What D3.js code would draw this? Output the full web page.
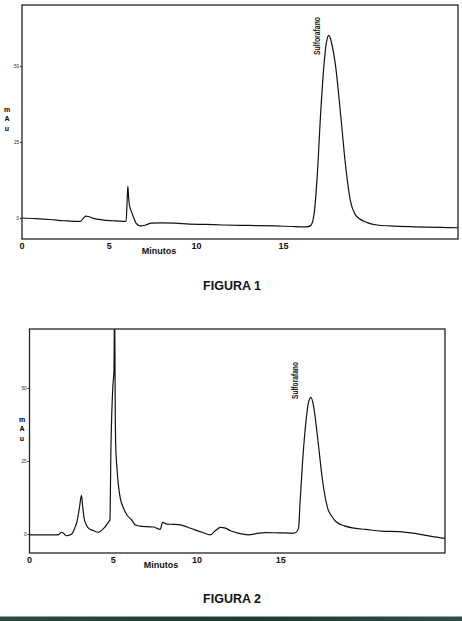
<!DOCTYPE html>
<html>
<head>
    <title>Sulforafano</title>
    <script type="text/javascript" src="https://d3js.org/d3.v7.min.js"></script>
    <style>
	body {
		margin: 0;
		background: #fff;
	}
	.tickx {
		font-family: Arial, "Liberation Sans", sans-serif;
		font-size: 9px;
		font-weight: bold;
		fill: #111;
	}
	.axis text {
		font-family: Arial, "Liberation Sans", sans-serif;
		font-size: 4.5px;
		fill: #222;
	}
	.axis path, .axis line {
		stroke: #222;
	}
	.labels {
		font-family: Arial, "Liberation Sans", sans-serif;
		font-weight: bold;
		fill: #111;
	}
	.peak {
		font-family: "Liberation Sans Narrow", "Arial Narrow", "Liberation Sans", sans-serif;
		font-size: 8.5px;
		font-weight: bold;
		fill: #111;
	}
    </style>
</head>
<body>
<script>

// ---------------- data ----------------
// retention time (minutos) and absorbance (mAu)
var fig1Minutes = [0, 0.8, 1.6, 2.4, 3.0, 3.35, 3.5, 3.65, 3.8, 4.1, 4.6, 5.2, 5.8, 5.97, 6.03, 6.07, 6.11, 6.16, 6.25, 6.4,
	6.55, 6.8, 7.1, 7.4, 8.0, 8.8, 9.6, 10.5, 11.5, 12.5, 13.5, 14.5, 15.5, 16.3, 16.55, 16.74, 16.93, 17.12, 17.31, 17.45,
	17.6, 17.75, 17.98, 18.27, 18.55, 18.84, 19.1, 19.31, 19.8, 20.36, 21.1, 22.5, 24, 25];
var fig1MAU = [0, -0.2, -0.5, -0.9, -1.1, -1.1, -0.2, 0.6, 0.5, -0.1, -0.6, -0.9, -1.1, -1.0, 6, 10.5, 7, 4.2, 2.5, 0.2,
	-1.8, -2.6, -2.3, -1.7, -1.6, -1.7, -2.0, -2.1, -2.3, -2.4, -2.5, -2.6, -2.8, -2.9, -2.5, 1.0, 14, 34, 50, 57.5,
	60, 57.5, 50, 34, 17.4, 5.4, 1.2, -0.1, -1.5, -2.3, -2.6, -2.9, -3.1, -3.2];

var fig2Minutes = [0, 0.8, 1.5, 1.75, 1.9, 2.05, 2.2, 2.5, 2.7, 2.83, 2.98, 3.1, 3.18, 3.26, 3.4, 3.52, 3.8, 4.12, 4.35, 4.52,
	4.7, 4.8, 4.86, 4.98, 5.04, 5.08, 5.12, 5.14, 5.22, 5.3, 5.42, 5.6, 5.82, 6.1, 6.32, 6.6, 7.0, 7.4, 7.8, 7.95,
	8.2, 8.6, 9.0, 9.4, 9.8, 10.3, 10.8, 11.1, 11.4, 11.7, 12.0, 12.5, 13.05, 13.6, 14.05, 14.9, 15.76, 15.9, 16.06, 16.14,
	16.3, 16.5, 16.65, 16.8, 16.95, 17.2, 17.5, 17.8, 18.05, 18.3, 18.8, 19.4, 20.05, 21, 22.05, 23, 24, 24.8];
var fig2MAU = [-0.3, -0.3, -0.3, -0.2, 0.6, 0.2, -0.6, -0.1, 2.0, 4.2, 9, 13.2, 9, 5.4, 3.0, 2.0, 1.2, 0.6, 1.5, 2.5,
	4.0, 4.8, 29, 51, 55.6, 80, 40, 31.6, 22.5, 17, 12.2, 9, 6.5, 4.8, 3.1, 2.7, 2.5, 2.4, 1.6, 4.0,
	3.4, 3.3, 3.1, 2.4, 1.6, 0.6, -0.3, 1.2, 2.3, 2.0, 1.1, 0.2, -0.3, 0.2, 0.5, 0.4, 0.3, 0.5, 2.0, 9.9,
	24.8, 38.5, 45, 46.8, 44, 32.8, 17.9, 8.8, 6, 4.2, 2.8, 2.0, 1.6, 1.0, 0.8, 0.2, -0.8, -1.5];

var xTicks = [0, 5, 10, 15];
var yTicks = [0, 25, 50];
var yUnitLetters = ["m", "A", "u"];
var peakName = "Sulforafano";
var axisTitle = "Minutos";
var figureTitles = ["FIGURA 1", "FIGURA 2"];

// create the svg canvas
var svgCanvas = d3.select("body").append("svg")
	.attr("width", 462)
	.attr("height", 621);

svgCanvas.append("rect").attr("width", 462).attr("height", 621).attr("fill", "#fff");

function Chromatogram( id, minutes, mau, box, xMax, yDomain, peakAt, peakLabel, unitX, unitY, captionY ) {
	var xScale = d3.scaleLinear().domain([0, xMax]).range([box.left, box.right]);
	var yScale = d3.scaleLinear().domain(yDomain).range([box.bottom, box.top]);

	var dataset = minutes.map(function (m, i){ return { t: m, v: mau[i] }; });

	svgCanvas.append("clipPath").attr("id", "clip" + id)
		.append("rect")
		.attr("x", box.left).attr("y", box.top)
		.attr("width", box.right - box.left).attr("height", box.bottom - box.top);

	// trace
	var line = d3.line()
		.x(function (d){ return xScale(d.t) })
		.y(function (d){ return yScale(d.v) })
		.curve(d3.curveMonotoneX);

	svgCanvas.append("path")
		.datum(dataset)
		.attr("d", line)
		.attr("clip-path", "url(#clip" + id + ")")
		.attr("fill", "none")
		.attr("stroke", "#111")
		.attr("stroke-width", 1.2)
		.attr("stroke-linejoin", "round");

	// frame
	svgCanvas.append("rect")
		.attr("x", box.left).attr("y", box.top)
		.attr("width", box.right - box.left).attr("height", box.bottom - box.top)
		.attr("fill", "none")
		.attr("stroke", "#222")
		.attr("stroke-width", 1.3);

	// y axis, tiny ticks
	var yAxis = d3.axisLeft(yScale).tickValues(yTicks).tickSize(2).tickPadding(1);
	svgCanvas.append("g").attr("class", "axis")
		.attr("transform", "translate(" + box.left + ",0)")
		.call(yAxis)
		.call(function (g){ g.select(".domain").remove() });

	// x tick labels
	svgCanvas.selectAll(".tx" + id).data(xTicks).enter().append("text")
		.attr("class", "tickx")
		.attr("x", function (d){ return xScale(d) })
		.attr("y", box.bottom + 10)
		.attr("text-anchor", "middle")
		.text(function (d){ return d });

	svgCanvas.append("text").attr("class", "labels")
		.attr("x", unitX.title).attr("y", box.bottom + 14.5)
		.attr("text-anchor", "middle")
		.style("font-size", "9px")
		.text(axisTitle);

	// mAu stacked letters
	svgCanvas.selectAll(".u" + id).data(yUnitLetters).enter().append("text")
		.attr("class", "labels")
		.attr("x", unitX.letters)
		.attr("y", function (d, i){ return unitY + i * 9.3 })
		.attr("text-anchor", "middle")
		.style("font-size", "7px")
		.style("fill", "#000")
		.text(function (d){ return d });

	// peak name, rotated, squeezed like a narrow face
	svgCanvas.append("text").attr("class", "peak")
		.attr("transform", "translate(" + peakAt.x + "," + peakAt.y + ") rotate(-90)")
		.attr("text-anchor", "start")
		.attr("textLength", peakAt.len)
		.attr("lengthAdjust", "spacingAndGlyphs")
		.text(peakLabel);

	svgCanvas.append("text").attr("class", "labels")
		.attr("x", 232).attr("y", captionY)
		.attr("text-anchor", "middle")
		.style("font-size", "12.5px")
		.text(figureTitles[id - 1]);
}

Chromatogram( 1, fig1Minutes, fig1MAU, { left: 22, top: 5, right: 458, bottom: 239 }, 25, [-6.9, 70],
	{ x: 320, y: 55, len: 38 }, peakName, { letters: 7, title: 159 }, 112, 290 );

Chromatogram( 2, fig2Minutes, fig2MAU, { left: 29.5, top: 329, right: 445, bottom: 553 }, 24.8, [-6.5, 70.2],
	{ x: 298, y: 399, len: 37 }, peakName, { letters: 22, title: 161 }, 422, 603 );

// dark green band at the bottom of the page
var band = svgCanvas.append("defs").append("linearGradient").attr("id", "band")
	.attr("x1", "0").attr("x2", "1").attr("y1", "0").attr("y2", "0");
band.append("stop").attr("offset", "0").attr("stop-color", "#2a4a42");
band.append("stop").attr("offset", "0.55").attr("stop-color", "#1b3a32");
band.append("stop").attr("offset", "1").attr("stop-color", "#2e5048");

svgCanvas.append("rect").attr("x", 0).attr("y", 616).attr("width", 462).attr("height", 5)
	.attr("fill", "url(#band)");
svgCanvas.append("rect").attr("x", 0).attr("y", 616).attr("width", 462).attr("height", 1)
	.attr("fill", "#8fa89e");

</script>
</body>
</html>
